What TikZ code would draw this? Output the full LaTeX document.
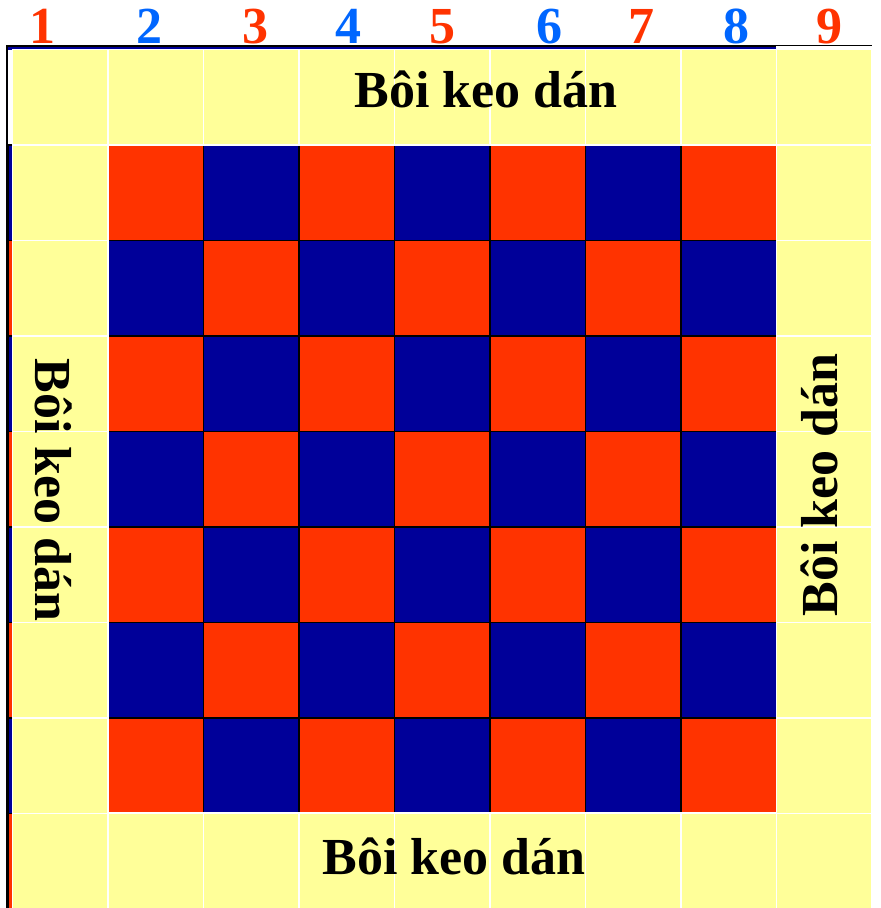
\documentclass[tikz,border=0pt]{standalone}
\usepackage{fontspec}
\setmainfont{Liberation Serif}
\definecolor{boardred}{HTML}{FF3300}
\definecolor{boardblue}{HTML}{000099}
\definecolor{numblue}{HTML}{0066FF}
\definecolor{glueyellow}{HTML}{FFFF99}

\begin{document}
\begin{tikzpicture}[
    x=1pt, y=-1pt,
    redsq/.style={fill=boardred, draw=black, line width=1.8pt},
    bluesq/.style={fill=boardblue, draw=black, line width=1.8pt},
    gluesq/.style={fill=glueyellow, draw=white, line width=1.5pt},
    gluetext/.style={font=\bfseries\fontsize{52}{60}\selectfont, inner sep=0pt, anchor=base},
    colnum/.style={font=\bfseries\fontsize{52}{60}\selectfont, inner sep=0pt, anchor=base}
]
\useasboundingbox (0,0) rectangle (881,908);
\fill[white] (0,0) rectangle (881,908);

% Checkerboard (red where row+column is even)
\fill[boardblue] (8,46) rectangle (776,50);
\foreach \r in {1,...,8}{
  \foreach \c in {0,...,7}{
    \pgfmathsetmacro{\xa}{ifthenelse(\c==0,8,12.5+95.5*\c)}
    \pgfmathsetmacro{\xb}{12.5+95.5*(\c+1)}
    \pgfmathsetmacro{\ya}{49.5+95.5*\r}
    \pgfmathsetmacro{\yb}{49.5+95.5*(\r+1)}
    \pgfmathtruncatemacro{\parity}{mod(\r+\c,2)}
    \ifnum\parity=0
      \filldraw[redsq] (\xa,\ya) rectangle (\xb,\yb);
    \else
      \filldraw[bluesq] (\xa,\ya) rectangle (\xb,\yb);
    \fi
  }
}

% Outer black edges
\draw[line width=2.5pt] (6,46) -- (776,46);
\draw[line width=1pt] (776,45.5) -- (872,45.5);
\draw[line width=2pt] (7,45) -- (7,908);

% Glue border: top and bottom rows
\foreach \c in {0,...,8}{
  \pgfmathsetmacro{\xa}{12.5+95.5*\c}
  \pgfmathsetmacro{\xb}{12.5+95.5*(\c+1)}
  \filldraw[gluesq] (\xa,49.5) rectangle (\xb,145);
  \filldraw[gluesq] (\xa,813) rectangle (\xb,909);
}
% Glue border: left and right columns
\foreach \r in {1,...,7}{
  \pgfmathsetmacro{\ya}{49.5+95.5*\r}
  \pgfmathsetmacro{\yb}{49.5+95.5*(\r+1)}
  \filldraw[gluesq] (12.5,\ya) rectangle (108,\yb);
  \filldraw[gluesq] (776.5,\ya) rectangle (872,\yb);
}

% Glue labels
\node[gluetext] (gluetop) at (486,107) {Bôi keo dán};
\node[gluetext] (gluebottom) at (454,874) {Bôi keo dán};
\node[gluetext, rotate=-90] (glueleft) at (35,490) {Bôi keo dán};
\node[gluetext, rotate=90] (glueright) at (837,485) {Bôi keo dán};

% Column numbers
\foreach \x/\n/\col in {42.5/1/boardred, 149/2/numblue, 255.5/3/boardred,
    348.5/4/numblue, 442/5/boardred, 549/6/numblue, 641.7/7/boardred,
    736/8/numblue, 829/9/boardred}
  \node[colnum, text=\col] (num\n) at (\x,43.5) {\n};

\end{tikzpicture}
\end{document}
